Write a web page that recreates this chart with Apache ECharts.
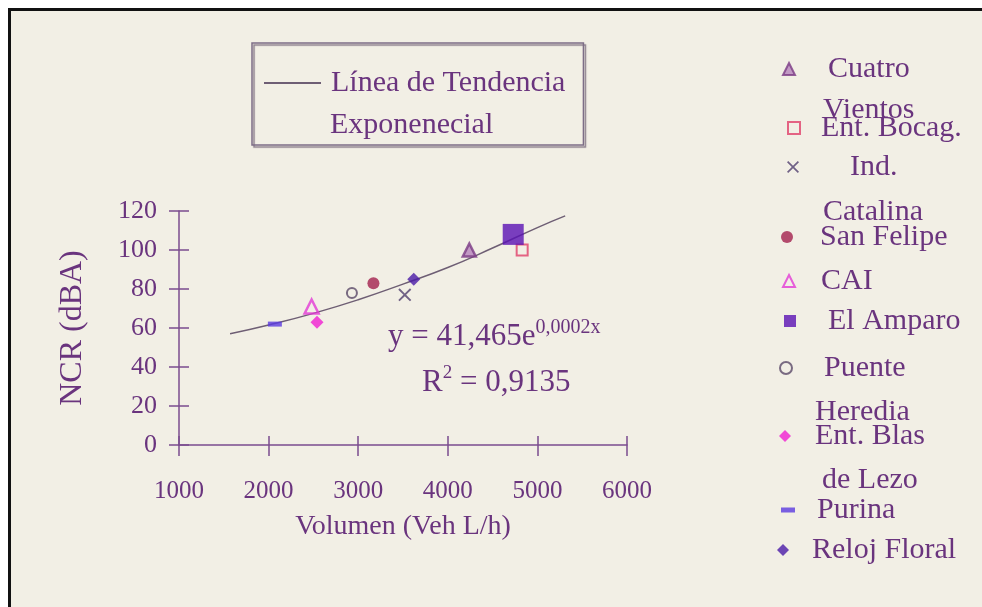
<!DOCTYPE html>
<html><head><meta charset="utf-8">
<script src="https://cdn.jsdelivr.net/npm/echarts@6/dist/echarts.min.js"></script>
<style>html,body{margin:0;padding:0;background:#fff}#c{width:982px;height:607px}</style>
</head><body><div id="c"></div>
<script>
// ---- data ----
const stationNames = ['Cuatro Vientos','Ent. Bocag.','Ind. Catalina','San Felipe','CAI','El Amparo','Puente Heredia','Ent. Blas de Lezo','Purina','Reloj Floral'];
const legendFirstLine = ['Cuatro','Ent. Bocag.','Ind.','San Felipe','CAI','El Amparo','Puente','Ent. Blas','Purina','Reloj Floral'];
const legendSecondLine = ['Vientos','','Catalina','','','','Heredia','de Lezo','',''];
const volumen = [4240, 4830, 3520, 3170, 2480, 4730, 2930, 2540, 2070, 3620];
const ncr = [100, 100, 77, 83, 71, 108, 78, 63, 62, 85];
const trendName = 'Línea de Tendencia';
const trendX = [1570, 2000, 2500, 3000, 3500, 4000, 4500, 5000, 5310];
const trendY = [57, 61.5, 67.5, 74.5, 82.5, 91, 101, 111.5, 117.5];
const xMin = 1000, xMax = 6000, xStep = 1000;
const yMin = 0, yMax = 120, yStep = 20;
const xTitle = 'Volumen (Veh L/h)';
const yTitle = 'NCR (dBA)';
const eqText = 'y = 41,465e';
const eqExp = '0,0002x';
const r2Text = ' = 0,9135';

// ---- styles ----
const TXT = '#6a347e';
const AX = '#7b4c8e';
const FONT = '"Liberation Serif", "Times New Roman", serif';
const styles = [
  {symbol:'triangle', size:13, item:{color:'#b583bb', borderColor:'#7a3a84', borderWidth:2.5}},
  {symbol:'rect', size:11, item:{color:'rgba(0,0,0,0)', borderColor:'#e0406a', borderWidth:2}},
  {symbol:'path://M0,1L1,0L5,4L9,0L10,1L6,5L10,9L9,10L5,6L1,10L0,9L4,5Z', size:13, item:{color:'#4f3d6e'}},
  {symbol:'circle', size:12, item:{color:'#a3204d'}},
  {symbol:'triangle', size:14, item:{color:'rgba(0,0,0,0)', borderColor:'#e23ad6', borderWidth:2.5}},
  {symbol:'rect', size:21, item:{color:'#5a12b4'}},
  {symbol:'circle', size:10, item:{color:'rgba(0,0,0,0)', borderColor:'#5a4868', borderWidth:2}},
  {symbol:'diamond', size:13, item:{color:'#f01ed2'}},
  {symbol:'rect', size:[14,5], item:{color:'#5a3ae0'}},
  {symbol:'diamond', size:13, item:{color:'#4a1aa8'}}
];
// legend placement: [iconCenterX, iconCenterY, textLeft]
const legendPos = [[788,69,827],[793,128,820],[793,167,850],[787,237,820],[788,281,820],[790,321,828],[785,368,823],[785,436,815],[788,510,817],[783,550,812]];
const secondLinePos = [[823,110],null,[823,212],null,null,null,[815,412],[822,480],null,null];

const series = stationNames.map((n,i)=>({
  name:n, type:'scatter', xAxisIndex:0, yAxisIndex:0,
  symbol:styles[i].symbol, symbolSize:styles[i].size, itemStyle:styles[i].item,
  data:[[volumen[i], ncr[i]]], z:5
}));
series.unshift({
  name:trendName, type:'line', xAxisIndex:0, yAxisIndex:0, smooth:true, symbol:'none', showSymbol:false,
  lineStyle:{color:'#6e5e74', width:1.5}, itemStyle:{color:'#6e5e74', opacity:0}, data:trendX.map((x,i)=>[x,trendY[i]]), z:3
});

const legends = stationNames.map((n,i)=>{
  const iw = i===8 ? 14 : 12, ih = i===8 ? 5 : 12;
  const p = legendPos[i];
  return {
    data:[n], orient:'vertical', left:p[0]-iw/2, top:p[1]-16, padding:0,
    itemWidth:iw, itemHeight:ih, selectedMode:false,
    formatter:()=>legendFirstLine[i],
    textStyle:{color:TXT, fontFamily:FONT, fontSize:30, lineHeight:32, padding:[0,0,0,p[2]-(p[0]-iw/2+iw+5)]}
  };
});
legends.push({
  data:[{name:trendName, itemStyle:{opacity:0}}], left:252, top:43, padding:[22,18,44,11],
  itemWidth:57, itemHeight:14, selectedMode:false,
  itemStyle:{opacity:0},
  borderColor:'#7d6d86', borderWidth:1.5,
  shadowColor:'rgba(70,50,80,0.6)', shadowOffsetX:2, shadowOffsetY:2, shadowBlur:1,
  textStyle:{color:TXT, fontFamily:FONT, fontSize:30, lineHeight:36, padding:[0,0,0,5]}
});

const graphics = [
  {type:'rect', shape:{x:0,y:0,width:982,height:8}, style:{fill:'#fff'}, silent:true},
  {type:'rect', shape:{x:0,y:0,width:8,height:607}, style:{fill:'#fff'}, silent:true},
  {type:'rect', shape:{x:8,y:8,width:974,height:3}, style:{fill:'#111'}, silent:true},
  {type:'rect', shape:{x:8,y:8,width:3,height:599}, style:{fill:'#111'}, silent:true},
  {type:'text', x:330, y:125, style:{text:'Exponenecial', fill:TXT, font:'30px '+FONT, textVerticalAlign:'middle'}},
  {type:'text', x:388, y:337, style:{text:'{a|'+eqText+'}{b|'+eqExp+'}', textVerticalAlign:'middle',
    rich:{a:{fill:TXT, fontFamily:FONT, fontSize:31, lineHeight:38}, b:{fill:TXT, fontFamily:FONT, fontSize:20, lineHeight:38, verticalAlign:'top'}}}},
  {type:'text', x:422, y:383, style:{text:'{a|R}{b|2}{a|'+r2Text+'}', textVerticalAlign:'middle',
    rich:{a:{fill:TXT, fontFamily:FONT, fontSize:31, lineHeight:38}, b:{fill:TXT, fontFamily:FONT, fontSize:19, lineHeight:38, verticalAlign:'top'}}}}
];
legendSecondLine.forEach((t,i)=>{
  if(!t) return;
  graphics.push({type:'text', x:secondLinePos[i][0], y:secondLinePos[i][1],
    style:{text:t, fill:TXT, font:'30px '+FONT, textVerticalAlign:'middle'}});
});

const axLine = {lineStyle:{color:AX, width:1.5}};
const option = {
  backgroundColor:'#f2efe5',
  animation:false,
  grid:{left:179, top:211, width:448, height:234, containLabel:false},
  xAxis:[
    {type:'value', min:xMin, max:xMax, interval:xStep, position:'bottom',
     axisLine:{show:true, ...axLine}, axisTick:{show:true, length:11, inside:false, ...axLine},
     axisLabel:{color:TXT, fontFamily:FONT, fontSize:25, margin:34, formatter:v=>String(v)},
     splitLine:{show:false},
     name:xTitle, nameLocation:'middle', nameGap:68,
     nameTextStyle:{color:TXT, fontFamily:FONT, fontSize:28}},
    {type:'value', min:xMin, max:xMax, interval:xStep, position:'bottom',
     axisLine:{show:false}, axisTick:{show:true, length:9, inside:true, ...axLine},
     axisLabel:{show:false}, splitLine:{show:false}}
  ],
  yAxis:[
    {type:'value', min:yMin, max:yMax, interval:yStep, position:'left',
     axisLine:{show:true, ...axLine}, axisTick:{show:true, length:10, inside:false, ...axLine},
     axisLabel:{color:TXT, fontFamily:FONT, fontSize:26, margin:22, formatter:v=>String(v)},
     splitLine:{show:false},
     name:yTitle, nameLocation:'middle', nameGap:90,
     nameTextStyle:{color:TXT, fontFamily:FONT, fontSize:32}},
    {type:'value', min:yMin, max:yMax, interval:yStep, position:'left',
     axisLine:{show:false}, axisTick:{show:true, length:10, inside:true, ...axLine},
     axisLabel:{show:false}, splitLine:{show:false}}
  ],
  legend:legends,
  series:series,
  graphic:graphics
};
const chart = echarts.init(document.getElementById('c'), null, {renderer:'canvas'});
chart.setOption(option);
</script></body></html>
